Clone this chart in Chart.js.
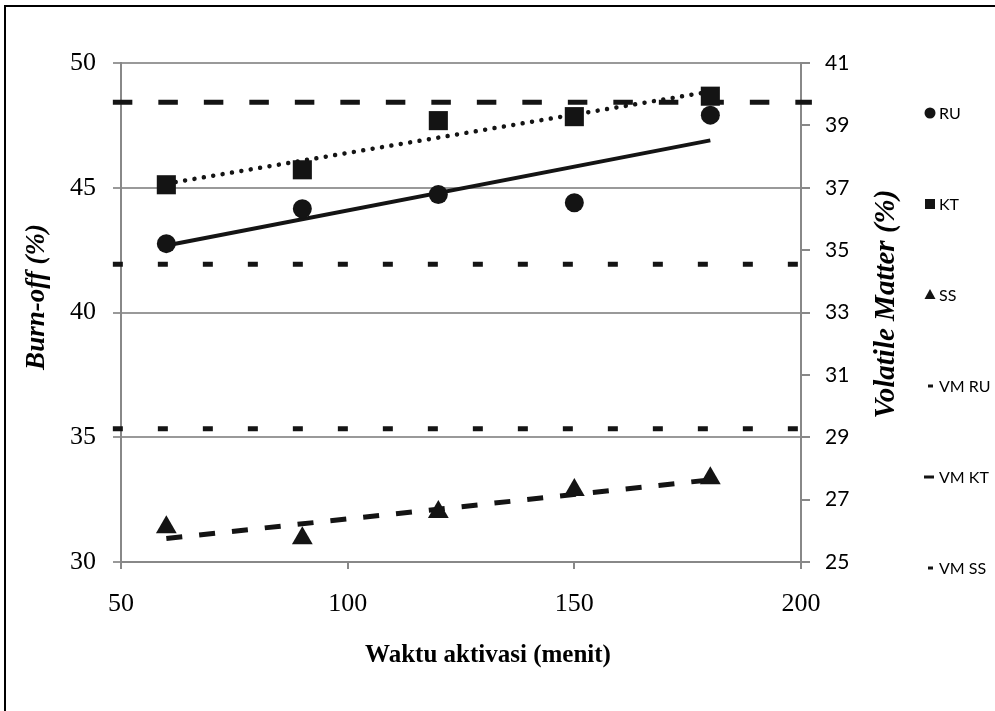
<!DOCTYPE html>
<html>
<head>
<meta charset="utf-8">
<title>Burn-off dan Volatile Matter</title>
<script src="https://cdn.jsdelivr.net/npm/chart.js@4.4.0/dist/chart.umd.min.js"></script>
<style>
  html, body { margin: 0; padding: 0; background: #fff; }
  #wrap { width: 995px; height: 711px; }
</style>
</head>
<body>
<div id="wrap"><canvas id="myChart" width="995" height="711"></canvas></div>
<script>
/*========== DATA ==========*/
const waktu = [60, 90, 120, 150, 180];              // waktu aktivasi (menit)
const burnOffRU = [42.76, 44.16, 44.73, 44.40, 47.91]; // Burn-off (%)
const burnOffKT = [45.12, 45.72, 47.69, 47.85, 48.67];
const burnOffSS = [31.39, 30.95, 32.00, 32.89, 33.36];
const vmRU = 34.55;                                  // Volatile Matter (%)
const vmKT = 39.74;
const vmSS = 29.27;
const vmSpan = [48.2, 202.4];                        // garis VM sedikit melewati sumbu
const xTicks = [50, 100, 150, 200];
const yTicksKiri = [30, 35, 40, 45, 50];
const yTicksKanan = [25, 27, 29, 31, 33, 35, 37, 39, 41];

const HITAM = '#141414';
const SERIF = "'Liberation Serif', 'Times New Roman', serif";
const SANS = "Lato, 'Open Sans', sans-serif";

// garis trend linear (least squares) dari titik data
function trend(xs, ys) {
  const n = xs.length;
  const mx = xs.reduce((a, b) => a + b, 0) / n;
  const my = ys.reduce((a, b) => a + b, 0) / n;
  let sxy = 0, sxx = 0;
  xs.forEach((x, i) => { sxy += (x - mx) * (ys[i] - my); sxx += (x - mx) * (x - mx); });
  const b = sxy / sxx, a = my - b * mx;
  const x0 = Math.min(...xs), x1 = Math.max(...xs);
  return [{ x: x0, y: a + b * x0 }, { x: x1, y: a + b * x1 }];
}

const titik = (ys) => waktu.map((x, i) => ({ x, y: ys[i] }));
const garisVM = (v) => vmSpan.map(x => ({ x, y: v }));
const setTicks = (list) => (scale) => { scale.ticks = list.map(v => ({ value: v })); };

/*========== PLUGIN: bingkai, judul sumbu, legend ==========*/
const hiasan = {
  id: 'hiasan',
  beforeDraw(chart) {
    const c = chart.ctx;
    c.save();
    c.fillStyle = '#fff';
    c.fillRect(0, 0, chart.width, chart.height);
    c.strokeStyle = '#000';
    c.lineWidth = 2;
    c.beginPath();
    c.moveTo(5, chart.height);
    c.lineTo(5, 6);
    c.lineTo(chart.width, 6);
    c.stroke();
    c.restore();
  },
  afterDraw(chart) {
    const c = chart.ctx;
    c.save();
    // judul sumbu kiri & kanan (dibaca dari bawah ke atas)
    c.fillStyle = '#000';
    c.textAlign = 'center';
    c.textBaseline = 'middle';
    [['Burn-off (%)', 37, 297, 27], ['Volatile Matter (%)', 887, 304, 29]].forEach(([t, x, y, size]) => {
      c.save();
      c.font = `italic bold ${size}px ${SERIF}`;
      c.translate(x, y);
      c.rotate(-Math.PI / 2);
      c.fillText(t, 0, 0);
      c.restore();
    });
    c.font = `bold 25px ${SERIF}`;
    c.fillText('Waktu aktivasi (menit)', 488, 656);

    // legend
    c.font = `16px ${SANS}`;
    c.textAlign = 'left';
    const items = chart.data.datasets.filter(ds => ds.legendMark);
    items.forEach((ds, i) => {
      const y = 113 + i * 91;
      const x = 930;
      c.fillStyle = HITAM;
      c.beginPath();
      if (ds.legendMark === 'circle') {
        c.arc(x, y, 5.5, 0, Math.PI * 2);
        c.fill();
      } else if (ds.legendMark === 'rect') {
        c.fillRect(x - 5, y - 5, 10, 10);
      } else if (ds.legendMark === 'triangle') {
        c.moveTo(x, y - 6);
        c.lineTo(x + 5.5, y + 4);
        c.lineTo(x - 5.5, y + 4);
        c.closePath();
        c.fill();
      } else if (ds.legendMark === 'dashLong') {
        c.fillRect(x - 6, y - 1.5, 10, 3);
      } else {
        c.fillRect(x - 2, y - 1.5, 5, 3);
      }
      c.fillStyle = '#000';
      c.fillText(ds.label, 939, y + 1);
    });
    c.restore();
  }
};

/*========== CHART ==========*/
const ctx = document.getElementById('myChart').getContext('2d');

const chart = new Chart(ctx, {
  type: 'scatter',
  data: {
    datasets: [
      {
        label: 'RU', legendMark: 'circle',
        data: titik(burnOffRU), yAxisID: 'y',
        pointStyle: 'circle', pointRadius: 9.5, pointBorderWidth: 0,
        backgroundColor: HITAM, borderColor: HITAM
      },
      {
        label: 'KT', legendMark: 'rect',
        data: titik(burnOffKT), yAxisID: 'y',
        pointStyle: 'rect', pointRadius: 13.5, pointBorderWidth: 0,
        backgroundColor: HITAM, borderColor: HITAM
      },
      {
        label: 'SS', legendMark: 'triangle',
        data: titik(burnOffSS), yAxisID: 'y',
        pointStyle: 'triangle', pointRadius: 12, pointBorderWidth: 0,
        backgroundColor: HITAM, borderColor: HITAM
      },
      {
        label: 'VM RU', legendMark: 'dashShort',
        data: garisVM(vmRU), yAxisID: 'y2', showLine: true, pointRadius: 0,
        borderColor: HITAM, borderWidth: 5, borderDash: [10, 35], clip: 15
      },
      {
        label: 'VM KT', legendMark: 'dashLong',
        data: garisVM(vmKT), yAxisID: 'y2', showLine: true, pointRadius: 0,
        borderColor: HITAM, borderWidth: 5, borderDash: [19.5, 26], clip: 15
      },
      {
        label: 'VM SS', legendMark: 'dashShort',
        data: garisVM(vmSS), yAxisID: 'y2', showLine: true, pointRadius: 0,
        borderColor: HITAM, borderWidth: 5, borderDash: [10, 35], clip: 15
      },
      {
        label: 'Linear (RU)',
        data: trend(waktu, burnOffRU), yAxisID: 'y', showLine: true, pointRadius: 0,
        borderColor: HITAM, borderWidth: 4
      },
      {
        label: 'Linear (KT)',
        data: trend(waktu, burnOffKT), yAxisID: 'y', showLine: true, pointRadius: 0,
        borderColor: HITAM, borderWidth: 4.5, borderDash: [0.01, 9.5], borderCapStyle: 'round'
      },
      {
        label: 'Linear (SS)',
        data: trend(waktu, burnOffSS), yAxisID: 'y', showLine: true, pointRadius: 0,
        borderColor: HITAM, borderWidth: 5, borderDash: [16, 17]
      }
    ]
  },
  options: {
    responsive: false,
    animation: false,
    layout: { padding: { top: 63, left: 0, right: 0, bottom: 0 } },
    plugins: {
      legend: { display: false },
      tooltip: { enabled: false }
    },
    scales: {
      x: {
        type: 'linear', min: 50, max: 200,
        afterBuildTicks: setTicks(xTicks),
        afterFit: (s) => { s.height = 711 - 562; },
        grid: { drawOnChartArea: false, drawTicks: true, tickLength: 7, color: '#888', lineWidth: 2 },
        border: { color: '#888', width: 2 },
        ticks: { font: { family: SERIF, size: 26 }, color: '#000', padding: 20, maxRotation: 0 }
      },
      y: {
        position: 'left', min: 30, max: 50,
        afterBuildTicks: setTicks(yTicksKiri),
        afterFit: (s) => { s.width = 121; },
        grid: { color: '#999', lineWidth: 2, drawTicks: true, tickLength: 8 },
        border: { color: '#888', width: 2 },
        ticks: { font: { family: SERIF, size: 26 }, color: '#000', padding: 17 }
      },
      y2: {
        position: 'right', min: 25, max: 41,
        afterBuildTicks: setTicks(yTicksKanan),
        afterFit: (s) => { s.width = 995 - 801; },
        grid: { drawOnChartArea: false, drawTicks: true, tickLength: 9, color: '#888', lineWidth: 2 },
        border: { color: '#888', width: 2 },
        ticks: { font: { family: SANS, size: 21 }, color: '#000', padding: 15 }
      }
    }
  },
  plugins: [hiasan]
});
</script>
</body>
</html>
